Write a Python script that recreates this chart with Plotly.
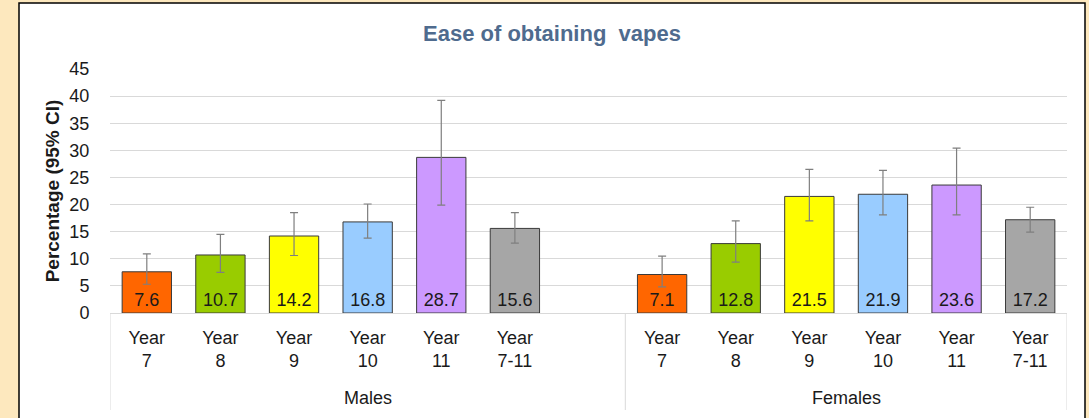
import plotly.graph_objects as go

# ---- data ----
groups = ["Males", "Females"]
year_labels = ["Year<br>7", "Year<br>8", "Year<br>9", "Year<br>10", "Year<br>11", "Year<br>7-11"]
male_values = [7.6, 10.7, 14.2, 16.8, 28.7, 15.6]
male_upper = [10.9, 14.5, 18.5, 20.1, 39.2, 18.5]
male_lower = [5.3, 7.5, 10.6, 13.8, 19.9, 12.9]
female_values = [7.1, 12.8, 21.5, 21.9, 23.6, 17.2]
female_upper = [10.5, 17.0, 26.5, 26.3, 30.4, 19.5]
female_lower = [4.8, 9.4, 17.0, 18.1, 18.1, 14.9]
bar_colors = ["#FF6600", "#99CC00", "#FFFF00", "#99CCFF", "#CC99FF", "#A6A6A6"]
y_ticks = [0, 5, 10, 15, 20, 25, 30, 35, 40, 45]

# positions: males 0-5, empty slot 6, females 7-12
male_x = list(range(0, 6))
female_x = list(range(7, 13))

FONT = "Liberation Sans, Arial"
fig = go.Figure()


def add_group(xs, vals, up, lo):
    fig.add_trace(go.Bar(
        x=xs, y=vals,
        width=0.67,
        marker=dict(color=bar_colors, line=dict(color="#3A3A3A", width=1)),
        text=[f"{v:.1f}" for v in vals],
        textposition="inside",
        insidetextanchor="start",
        textangle=0,
        constraintext="none",
        textfont=dict(family=FONT, size=18, color="#1A1A1A"),
        error_y=dict(type="data", symmetric=False,
                     array=[u - v for u, v in zip(up, vals)],
                     arrayminus=[v - l for v, l in zip(vals, lo)],
                     color="#7F7F7F", thickness=1.2, width=4),
        showlegend=False,
        hoverinfo="skip",
    ))


add_group(male_x, male_values, male_upper, male_lower)
add_group(female_x, female_values, female_upper, female_lower)

# plot area in pixels: x 110..1067, y 69..313
L, R, T, B = 110, 1067, 69, 313
W, H = 1089, 418
pw, ph = R - L, B - T


def px_x(p):
    return (p - L) / pw


def px_y(p):
    return (B - p) / ph


shapes = [
    dict(type="rect", xref="paper", yref="paper",
         x0=px_x(19), x1=px_x(1085), y0=px_y(430), y1=px_y(3),
         fillcolor="white", line=dict(color="black", width=1.5), layer="below"),
]
for xv in [-0.5, 6.5, 12.5]:
    shapes.append(dict(type="line", xref="x", yref="paper",
                       x0=xv, x1=xv, y0=0, y1=px_y(410),
                       line=dict(color="#D9D9D9", width=1)))

annotations = []
for name, xc in zip(groups, [3, 9.5]):
    annotations.append(dict(text=name, x=xc, xref="x", y=px_y(398), yref="paper",
                            showarrow=False, xanchor="center", yanchor="middle",
                            font=dict(family=FONT, size=18, color="#1A1A1A")))

fig.update_layout(
    width=W, height=H,
    margin=dict(l=L, r=W - R, t=T, b=H - B),
    paper_bgcolor="#FDE8BE",
    plot_bgcolor="white",
    shapes=shapes,
    annotations=annotations,
    title=dict(text="Ease of obtaining\u00a0 vapes", xref="paper", x=px_x(552), xanchor="center",
               yref="container", y=1 - 33 / H, yanchor="middle",
               font=dict(family=FONT, size=22, color="#4F6B8E", weight="bold")),
    xaxis=dict(range=[-0.5, 12.5], tickvals=male_x + female_x, ticktext=year_labels + year_labels,
               showgrid=False, zeroline=False, showline=True, linecolor="#D9D9D9", linewidth=1,
               ticks="outside", ticklen=8, tickcolor="rgba(0,0,0,0)",
               tickfont=dict(family=FONT, size=18, color="#1A1A1A")),
    yaxis=dict(range=[0, 45], tickvals=y_ticks, showgrid=True, gridcolor="#D9D9D9", gridwidth=1,
               zeroline=False, showline=False,
               ticks="outside", ticklen=16, tickcolor="rgba(0,0,0,0)",
               tickfont=dict(family=FONT, size=18, color="#1A1A1A"),
               title=dict(text="Percentage (95% CI)", standoff=4,
                          font=dict(family=FONT, size=19, color="#1A1A1A", weight="bold"))),
)

fig.write_html("out.html", config={"displayModeBar": False},
               post_script="document.body.style.margin='0';")
